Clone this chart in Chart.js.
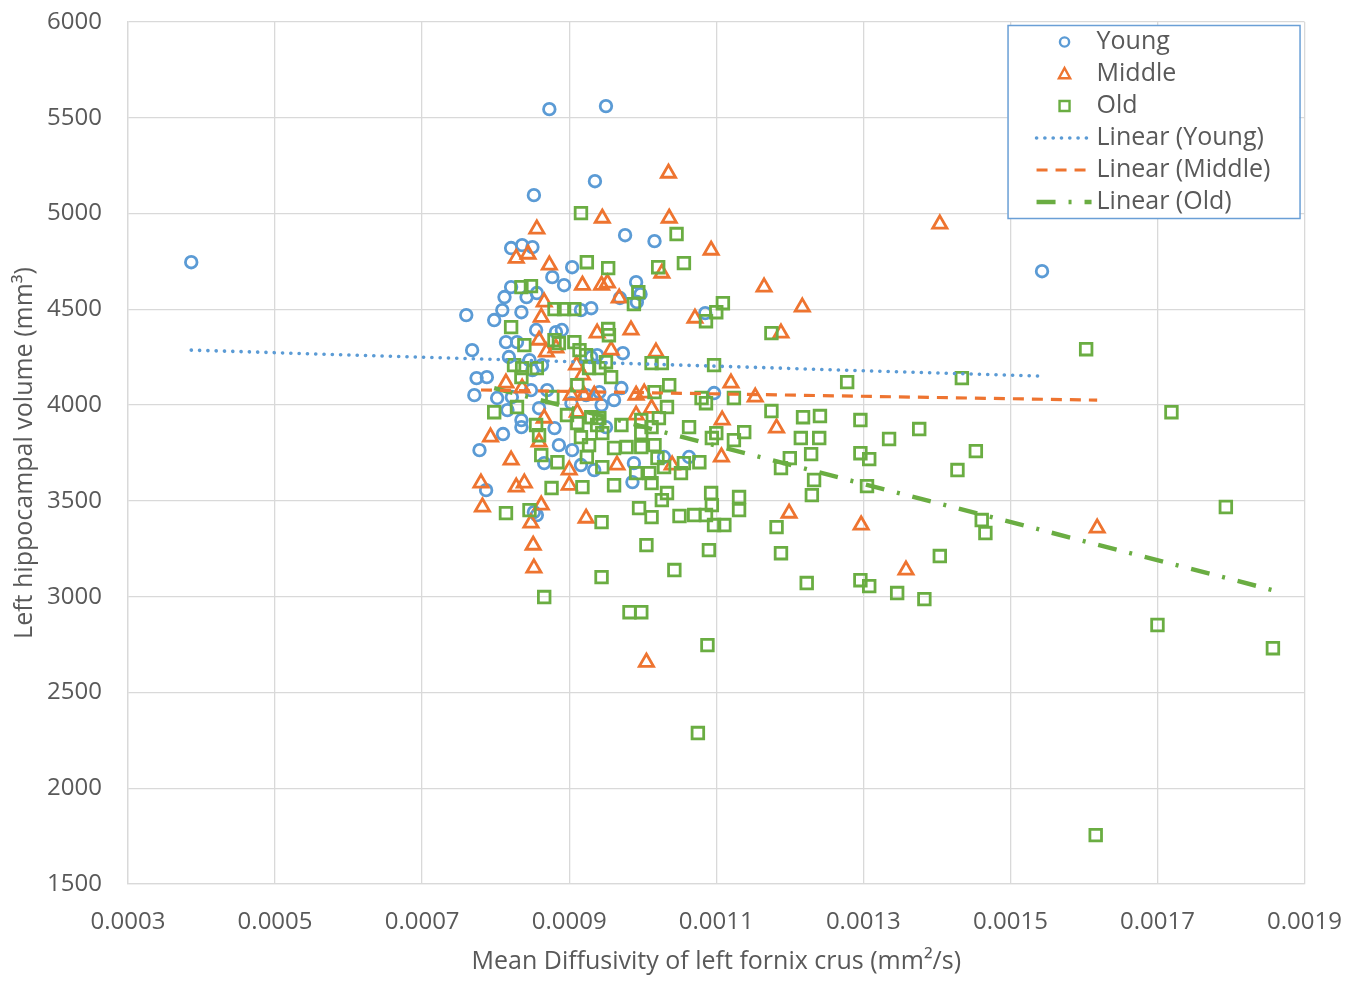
<!DOCTYPE html>
<html>
<head>
<meta charset="utf-8">
<title>Left hippocampal volume vs mean diffusivity of left fornix crus</title>
<script src="https://cdn.jsdelivr.net/npm/chart.js@4.4.0/dist/chart.umd.min.js"></script>
<style>
  html, body { margin: 0; padding: 0; background: #ffffff; }
  #wrap { width: 1366px; height: 982px; }
</style>
</head>
<body>
<div id="wrap"><canvas id="chart" width="1366" height="982"></canvas></div>
<script>
// Mean diffusivity (mm²/s) and left hippocampal volume (mm³) per age group
const youngX = [0.000386, 0.000873, 0.000950, 0.000852, 0.000935, 0.001543, 0.000976, 0.001016, 0.000821, 0.000836,
  0.000850, 0.000904, 0.000877, 0.000893, 0.000991, 0.000997, 0.000969, 0.000992, 0.001085, 0.000760,
  0.000812, 0.000809, 0.000798, 0.000821, 0.000835, 0.000856, 0.000916, 0.000930, 0.000855, 0.000882,
  0.000890, 0.000814, 0.000829, 0.000768, 0.000818, 0.000846, 0.000850, 0.000863, 0.000930, 0.000938,
  0.000774, 0.000788, 0.000771, 0.000802, 0.000822, 0.000848, 0.000870, 0.000816, 0.000835, 0.000859,
  0.000835, 0.000923, 0.000944, 0.000903, 0.000973, 0.000941, 0.000961, 0.000971, 0.001097, 0.000950,
  0.000988, 0.001029, 0.001063, 0.000986, 0.000810, 0.000778, 0.000866, 0.000904, 0.000916, 0.000934,
  0.000787, 0.000852, 0.000856, 0.000842, 0.000880, 0.000886];
const youngY = [4746, 5545, 5561, 5096, 5169, 4699, 4887, 4856, 4820, 4835,
  4825, 4720, 4668, 4626, 4642, 4579, 4559, 4538, 4480, 4470,
  4564, 4496, 4444, 4616, 4485, 4585, 4496, 4506, 4392, 4381,
  4392, 4329, 4329, 4287, 4251, 4235, 4183, 4209, 4251, 4261,
  4141, 4146, 4052, 4037, 4042, 4078, 4078, 3974, 3922, 3984,
  3885, 4052, 4000, 4010, 4271, 4068, 4026, 4089, 4063, 3885,
  3697, 3729, 3729, 3598, 3849, 3765, 3697, 3765, 3687, 3661,
  3556, 3441, 3426, 4564, 3880, 3791];

const middleX = [0.001035, 0.000945, 0.001036, 0.000856, 0.001093, 0.000828, 0.000844, 0.000873, 0.001026, 0.001404,
  0.000952, 0.000968, 0.000918, 0.001165, 0.000866, 0.001071, 0.001217, 0.000984, 0.000862, 0.000938,
  0.001188, 0.000957, 0.001018, 0.000859, 0.000869, 0.000882, 0.000910, 0.000918, 0.001120, 0.001153,
  0.000991, 0.001002, 0.000814, 0.000836, 0.000866, 0.000911, 0.000903, 0.000920, 0.000934, 0.001012,
  0.000991, 0.001108, 0.001182, 0.001107, 0.000965, 0.001040, 0.000793, 0.000859, 0.000900, 0.000900,
  0.000821, 0.000828, 0.000839, 0.000780, 0.000782, 0.000862, 0.000848, 0.000851, 0.000852, 0.000923,
  0.001199, 0.001297, 0.001358, 0.001618, 0.001005, 0.000944];
const middleY = [5211, 4976, 4976, 4919, 4809, 4767, 4788, 4731, 4689, 4945,
  4637, 4559, 4626, 4616, 4538, 4454, 4512, 4392, 4459, 4376,
  4376, 4287, 4277, 4339, 4277, 4298, 4209, 4157, 4115, 4042,
  4052, 4063, 4115, 4089, 3932, 3963, 4052, 4052, 4052, 3984,
  3948, 3922, 3880, 3729, 3687, 3687, 3833, 3807, 3661, 3582,
  3713, 3572, 3593, 3593, 3468, 3478, 3384, 3269, 3149, 3410,
  3436, 3374, 3139, 3358, 2658, 4626];

const oldX = [0.000916, 0.001046, 0.001056, 0.000924, 0.000953, 0.001021, 0.000994, 0.000988, 0.000953, 0.001086,
  0.001100, 0.001109, 0.001175, 0.000835, 0.000848, 0.000880, 0.000893, 0.000907, 0.000821, 0.000839,
  0.000880, 0.000886, 0.000907, 0.000825, 0.000836, 0.000856, 0.000835, 0.000914, 0.000923, 0.000927,
  0.000941, 0.000877, 0.000829, 0.000798, 0.000897, 0.000911, 0.000930, 0.000938, 0.000855, 0.000954,
  0.000950, 0.000957, 0.001012, 0.001026, 0.001097, 0.001016, 0.001036, 0.001033, 0.001022, 0.000998,
  0.001080, 0.001086, 0.001124, 0.000971, 0.001063, 0.001100, 0.001094, 0.001124, 0.001138, 0.000961,
  0.000978, 0.000998, 0.001016, 0.000998, 0.001020, 0.001029, 0.001056, 0.001077, 0.000945, 0.000991,
  0.001009, 0.001052, 0.000941, 0.000961, 0.001012, 0.001033, 0.001026, 0.000995, 0.001012, 0.001093,
  0.001094, 0.001131, 0.001131, 0.001050, 0.001070, 0.001086, 0.001097, 0.001111, 0.000944, 0.001005,
  0.001090, 0.001043, 0.000944, 0.000982, 0.000998, 0.001088, 0.001075, 0.000866, 0.000814, 0.000846,
  0.000859, 0.000862, 0.000884, 0.000918, 0.000876, 0.000916, 0.000924, 0.000927, 0.001278, 0.001434,
  0.001175, 0.001218, 0.001241, 0.001296, 0.001376, 0.001335, 0.001215, 0.001240, 0.001229, 0.001296,
  0.001308, 0.001453, 0.001428, 0.001200, 0.001188, 0.001233, 0.001230, 0.001305, 0.001182, 0.001461,
  0.001466, 0.001188, 0.001404, 0.001223, 0.001296, 0.001308, 0.001346, 0.001383, 0.001603, 0.001719,
  0.001793, 0.001700, 0.001857, 0.001616, 0.000911, 0.000945, 0.001012];
const oldY = [5002, 4893, 4741, 4746, 4715, 4720, 4590, 4527, 4397, 4438,
  4485, 4532, 4376, 4616, 4621, 4501, 4501, 4501, 4407, 4313,
  4339, 4324, 4329, 4209, 4193, 4193, 4146, 4287, 4261, 4193,
  4193, 4042, 3990, 3963, 3948, 3906, 3937, 3896, 3896, 4365,
  4224, 4146, 4219, 4219, 4209, 4068, 4104, 3990, 3932, 3922,
  4037, 4010, 4037, 3896, 3885, 3854, 3828, 3817, 3859, 3776,
  3781, 3781, 3791, 3854, 3723, 3676, 3697, 3702, 3676, 3645,
  3645, 3645, 3932, 3582, 3593, 3541, 3504, 3462, 3415, 3541,
  3478, 3520, 3452, 3421, 3426, 3426, 3374, 3374, 3389, 3269,
  3243, 3139, 3102, 2919, 2919, 2747, 2288, 2998, 3436, 3452,
  3843, 3739, 3702, 3572, 3567, 3833, 3729, 3791, 4120, 4141,
  3969, 3937, 3943, 3922, 3875, 3823, 3828, 3828, 3744, 3749,
  3718, 3760, 3661, 3723, 3671, 3609, 3530, 3577, 3363, 3400,
  3332, 3227, 3212, 3071, 3086, 3055, 3019, 2987, 4292, 3963,
  3468, 2852, 2731, 1755, 4104, 3854, 3885];

// Linear trend lines: end points across each group's range
const youngTrendX = [0.000386, 0.001543];
const youngTrendY = [4287, 4151];
const middleTrendX = [0.000780, 0.001618];
const middleTrendY = [4079, 4026];
const oldTrendX = [0.000798, 0.001857];
const oldTrendY = [4089, 3034];

// Axis ticks
const xTicks = ['0.0003', '0.0005', '0.0007', '0.0009', '0.0011', '0.0013', '0.0015', '0.0017', '0.0019'];
const yTicks = ['1500', '2000', '2500', '3000', '3500', '4000', '4500', '5000', '5500', '6000'];

const BLUE = '#5B9BD5';
const ORANGE = '#EE7430';
const GREEN = '#6AAD42';
const TEXT = '#595959';
const GRID = '#d9d9d9';
const FONT = '"Open Sans", "DejaVu Sans", sans-serif';

function toPoints(xs, ys) {
  return xs.map((x, i) => ({ x: x, y: ys[i] }));
}

// Boxed legend in the upper right corner of the plot
const boxLegend = {
  id: 'boxLegend',
  afterDraw(chart) {
    const ctx = chart.ctx;
    const area = chart.chartArea;
    const w = 292, h = 193;
    const left = area.right - 5 - w;
    const top = area.top + 3;
    ctx.save();
    ctx.fillStyle = '#ffffff';
    ctx.fillRect(left, top, w, h);
    ctx.strokeStyle = '#6A9FD6';
    ctx.lineWidth = 1.5;
    ctx.strokeRect(left + 0.5, top + 0.5, w, h);
    ctx.font = '25px ' + FONT;
    ctx.textBaseline = 'middle';
    chart.data.datasets.forEach((ds, i) => {
      const y = top + 17 + i * 32;
      const mx = left + 57;
      ctx.save();
      ctx.strokeStyle = ds.borderColor;
      if (ds.type === 'line') {
        ctx.lineWidth = ds.borderWidth;
        ctx.lineCap = ds.borderCapStyle || 'butt';
        ctx.setLineDash(ds.borderDash || []);
        ctx.beginPath();
        ctx.moveTo(left + 29, y);
        ctx.lineTo(left + 84, y);
        ctx.stroke();
      } else {
        ctx.lineWidth = 2.4;
        ctx.beginPath();
        if (ds.pointStyle === 'circle') {
          ctx.arc(mx, y, 4.6, 0, Math.PI * 2);
        } else if (ds.pointStyle === 'triangle') {
          ctx.moveTo(mx, y - 6);
          ctx.lineTo(mx + 5.6, y + 4.2);
          ctx.lineTo(mx - 5.6, y + 4.2);
          ctx.closePath();
        } else {
          ctx.rect(mx - 5, y - 5, 10, 10);
        }
        ctx.stroke();
      }
      ctx.restore();
      ctx.fillStyle = TEXT;
      ctx.fillText(ds.label, left + 89, y);
    });
    ctx.restore();
  }
};

const scatterBase = {
  type: 'scatter',
  backgroundColor: 'rgba(0,0,0,0)',
  borderWidth: 2.8,
  pointBorderWidth: 2.8
};

const lineBase = {
  type: 'line',
  pointRadius: 0,
  fill: false,
  tension: 0
};

new Chart(document.getElementById('chart'), {
  data: {
    datasets: [
      Object.assign({}, scatterBase, {
        label: 'Young', data: toPoints(youngX, youngY), borderColor: BLUE,
        pointStyle: 'circle', pointRadius: 5.8, order: 3
      }),
      Object.assign({}, scatterBase, {
        label: 'Middle', data: toPoints(middleX, middleY), borderColor: ORANGE,
        pointStyle: 'triangle', pointRadius: 8.2, order: 2
      }),
      Object.assign({}, scatterBase, {
        label: 'Old', data: toPoints(oldX, oldY), borderColor: GREEN,
        pointStyle: 'rect', pointRadius: 8.2, order: 1
      }),
      Object.assign({}, lineBase, {
        label: 'Linear (Young)', data: toPoints(youngTrendX, youngTrendY), borderColor: BLUE,
        borderWidth: 3.6, borderDash: [0.1, 8.2], borderCapStyle: 'round', order: 0
      }),
      Object.assign({}, lineBase, {
        label: 'Linear (Middle)', data: toPoints(middleTrendX, middleTrendY), borderColor: ORANGE,
        borderWidth: 3.2, borderDash: [11, 8], borderCapStyle: 'butt', order: 0
      }),
      Object.assign({}, lineBase, {
        label: 'Linear (Old)', data: toPoints(oldTrendX, oldTrendY), borderColor: GREEN,
        borderWidth: 4.4, borderDash: [19, 13, 3, 13], borderCapStyle: 'butt', order: 0
      })
    ]
  },
  options: {
    responsive: false,
    animation: false,
    devicePixelRatio: 1,
    layout: { padding: { top: 22, right: 61, left: 0, bottom: 0 } },
    plugins: {
      legend: { display: false },
      tooltip: { enabled: false }
    },
    scales: {
      x: {
        type: 'linear',
        min: Number(xTicks[0]),
        max: Number(xTicks[xTicks.length - 1]),
        afterBuildTicks(scale) {
          scale.ticks = xTicks.map(t => ({ value: Number(t) }));
        },
        ticks: {
          callback: (v, i) => xTicks[i],
          font: { family: FONT, size: 24 },
          color: TEXT,
          padding: 24,
          maxRotation: 0,
          autoSkip: false
        },
        grid: { color: GRID, lineWidth: 1.3, drawTicks: false },
        border: { color: GRID, width: 1.3 },
        title: {
          display: true,
          text: 'Mean Diffusivity of left fornix crus (mm²/s)',
          font: { family: FONT, size: 25 },
          color: TEXT,
          padding: { top: 0, bottom: 5 }
        },
        afterFit(scale) { scale.height = 98; }
      },
      y: {
        type: 'linear',
        min: Number(yTicks[0]),
        max: Number(yTicks[yTicks.length - 1]),
        afterBuildTicks(scale) {
          scale.ticks = yTicks.map(t => ({ value: Number(t) }));
        },
        ticks: {
          callback: (v, i) => yTicks[i],
          font: { family: FONT, size: 24 },
          color: TEXT,
          padding: 26
        },
        grid: { color: GRID, lineWidth: 1.3, drawTicks: false },
        border: { color: GRID, width: 1.3 },
        title: {
          display: true,
          text: 'Left hippocampal volume (mm³)',
          font: { family: FONT, size: 25 },
          color: TEXT,
          padding: { top: 10, bottom: 0 }
        },
        afterFit(scale) {
          scale.width = 128;
          scale.paddingTop = 0;
          scale.paddingBottom = 0;
        }
      }
    }
  },
  plugins: [boxLegend]
});
</script>
</body>
</html>
